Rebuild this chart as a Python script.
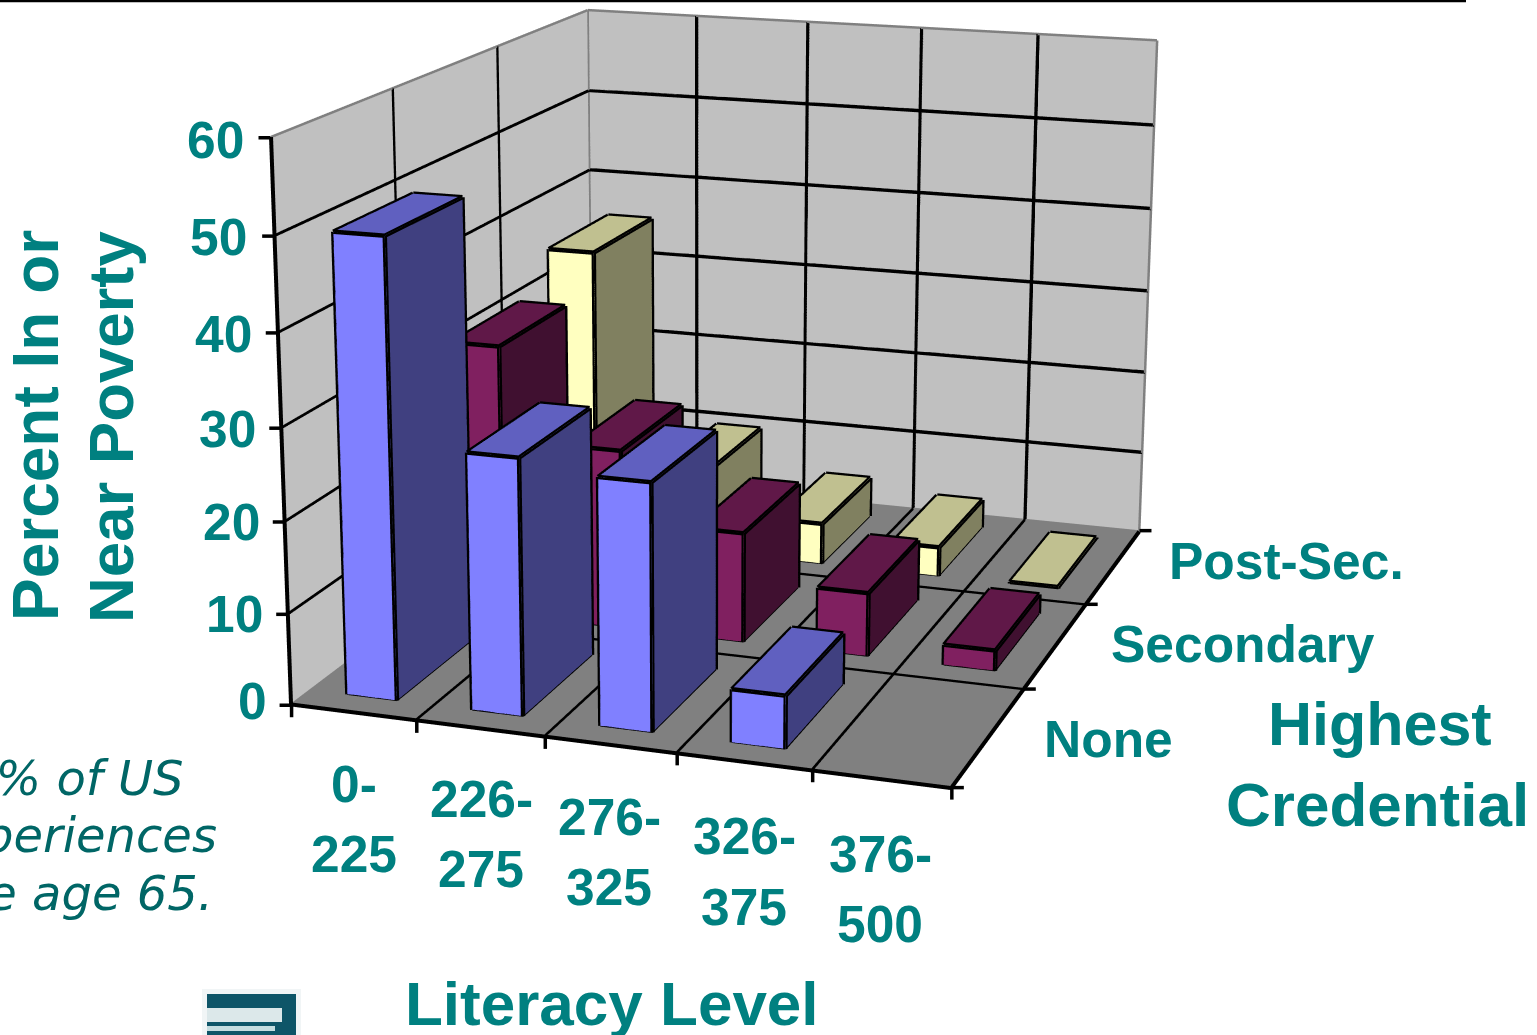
import numpy as np, plotly.graph_objects as go
levels=['0-225','226-275','276-325','326-375','376-500']
creds=['None','Secondary','Post-Sec.']
v_none=[49.7,27.8,26.6,5.7,0]
v_sec=[31.1,20.5,12.5,7.2,2.3]
v_post=[35.4,9.9,4.9,3.5,0.2]
z_ticks=[0,10,20,30,40,50,60]
DW,DH,L,T=1700,2780,145,973
F=DH/2/np.tan(np.pi/8);cx=DW/2-L;cy=DH/2-T
eye=np.array([1.586,-4.793,1.3067]);center=np.array([-0.0333,-0.1097,-0.076]);up=np.array([0.0094,-0.0217,1.0]);asp=np.array([1.0,1.2359,0.8445])
nx,ny=len(levels),len(creds)
def proj(x,y,z):
    f=center-eye;f=f/np.linalg.norm(f);r=np.cross(f,up);r/=np.linalg.norm(r);u=np.cross(r,f)
    P=np.array([(x/nx-.5)*asp[0],(y/ny-.5)*asp[1],(z/60-.5)*asp[2]])-eye
    d=P@f
    return cx+F*(P@r)/d,cy-F*(P@u)/d
def pxy(x,y): return (x+L)/DW,1-(y+T)/DH
def px(x,y):
    a,b=pxy(x,y);return dict(x=a,y=b,xref='paper',yref='paper')
dx=0.2;dy=0.34
def bars(vals,j,front,side,top):
    xs=[];ys=[];zs=[];I=[];J=[];K=[];fc=[];ex=[];ey=[];ez=[]
    for i,v in enumerate(vals):
        if v<=0: continue
        x0,x1=i+.5-dx,i+.5+dx;y0,y1=j+.5-dy,j+.5+dy
        n=len(xs)
        for a,b,c_ in [(x0,y0,0),(x1,y0,0),(x1,y1,0),(x0,y1,0),(x0,y0,v),(x1,y0,v),(x1,y1,v),(x0,y1,v)]:
            xs.append(a);ys.append(b);zs.append(c_)
        for t,col in [((0,1,5),front),((0,5,4),front),((1,2,6),side),((1,6,5),side),((4,5,6),top),((4,6,7),top),((0,3,7),front),((0,7,4),front),((3,2,6),side),((3,6,7),side)]:
            I.append(n+t[0]);J.append(n+t[1]);K.append(n+t[2]);fc.append(col)
        for a,b in [(0,1),(1,2),(4,5),(5,6),(6,7),(7,4),(0,4),(1,5),(2,6)]:
            ex+=[xs[n+a],xs[n+b],None];ey+=[ys[n+a],ys[n+b],None];ez+=[zs[n+a],zs[n+b],None]
    m=go.Mesh3d(x=xs,y=ys,z=zs,i=I,j=J,k=K,facecolor=fc,flatshading=True,lighting=dict(ambient=1,diffuse=0,specular=0,fresnel=0),showscale=False,hoverinfo='skip')
    l=go.Scatter3d(x=ex,y=ey,z=ez,mode='lines',line=dict(color='black',width=9),showlegend=False,hoverinfo='skip')
    return [m,l]
tr=bars(v_post,2,'#FFFFC0','#808060','#C0C090')+bars(v_sec,1,'#802060','#401030','#601848')+bars(v_none,0,'#8080FF','#404080','#6060C0')
def seg(segs,color,width):
    X=[];Y=[];Z=[]
    for a,b in segs:
        X+=[a[0],b[0],None];Y+=[a[1],b[1],None];Z+=[a[2],b[2],None]
    return go.Scatter3d(x=X,y=Y,z=Z,mode='lines',line=dict(color=color,width=width),showlegend=False,hoverinfo='skip')
grid=[]
for i in range(1,nx):
    grid+=[((i,0,0),(i,ny,0)),((i,ny,0),(i,ny,60))]
for j in range(1,ny):
    grid+=[((0,j,0),(nx,j,0)),((0,j,0),(0,j,60))]
for z in z_ticks[1:-1]:
    grid+=[((0,0,z),(0,ny,z)),((0,ny,z),(nx,ny,z))]
frame=[((0,0,0),(0,0,60)),((0,0,0),(nx,0,0)),((nx,0,0),(nx,ny,0))]
outline=[((0,0,60),(0,ny,60)),((0,ny,60),(nx,ny,60)),((0,ny,0),(0,ny,60)),((nx,ny,0),(nx,ny,60)),((0,0,0),(0,ny,0)),((0,ny,0),(nx,ny,0))]
fig=go.Figure(tr+[seg(grid,'black',7),seg(frame,'black',8),seg(outline,'#808080',5)])
ax=dict(showgrid=False,showline=False,ticks='',showticklabels=False,title='',zeroline=False,showspikes=False,showbackground=True)
fig.update_layout(width=DW,height=DH,margin=dict(l=0,r=0,t=0,b=0),paper_bgcolor='white',showlegend=False,
 scene=dict(domain=dict(x=[0,1],y=[0,1]),aspectmode='manual',aspectratio=dict(x=asp[0],y=asp[1],z=asp[2]),
  camera=dict(eye=dict(x=eye[0],y=eye[1],z=eye[2]),center=dict(x=center[0],y=center[1],z=center[2]),up=dict(x=up[0],y=up[1],z=up[2])),
  xaxis=dict(ax,range=[0,nx],backgroundcolor='#C0C0C0'),
  yaxis=dict(ax,range=[0,ny],backgroundcolor='#C0C0C0'),
  zaxis=dict(ax,range=[0,60],backgroundcolor='#808080')))
TEAL='#008080'
def A(x,y,t,size,anchor='center',angle=0,color=TEAL,bold=True,italic=False,fam='Liberation Sans'):
    fig.add_annotation(text=('<b>%s</b>'%t if bold else t) if not italic else '<i>%s</i>'%t,showarrow=False,xanchor=anchor,yanchor='middle',textangle=angle,font=dict(size=size,color=color,family=fam),**px(x,y))
for t,(x,y) in zip(z_ticks,[(269,701),(265,614),(262,522),(258,429),(254,334),(249,237),(246,140)]):
    A(x,y,str(t),51.5,'right')
for t,(x,y1,y2) in zip(levels,[(354,784,854),(481,799,869),(609,817,887),(744,836,907),(880,854,924)]):
    a,b=t.split('-');A(x,y1,a+'-',51.5);A(x,y2,b,51.5)
A(1108,739,creds[0],51.5);A(1243,644,creds[1],51.5);A(1286,561,creds[2],51.5)
A(1380,724,'Highest',61);A(1377,805,'Credential',62);A(612,1003,'Literacy Level',62)
A(36,426,'Percent In or',64,angle=-90);A(111,427,'Near Poverty',63.5,angle=-90)
for t,x,y in [('2% of US',186,778),('experiences',219,835),('the age 65.',215,893)]:
    A(x,y,t,48,'right',color='#006666',bold=False,italic=True,fam='DejaVu Sans')
def line(x0,y0,x1,y1,color='black',w=3):
    a,b=pxy(x0,y0);c_,d=pxy(x1,y1)
    fig.add_shape(type='line',xref='paper',yref='paper',x0=a,y0=b,x1=c_,y1=d,line=dict(color=color,width=w))
def rect(x0,y0,x1,y1,color):
    a,b=pxy(x0,y0);c_,d=pxy(x1,y1)
    fig.add_shape(type='rect',xref='paper',yref='paper',x0=a,y0=b,x1=c_,y1=d,line_width=0,fillcolor=color)
for i in range(nx+1):
    q=proj(i,0,0);line(q[0],q[1],q[0],q[1]+12,w=3.5)
for j in range(ny+1):
    q=proj(nx,j,0);line(q[0],q[1],q[0]+12,q[1],w=3.5)
for z in z_ticks:
    q=proj(0,0,z);line(q[0]-12,q[1],q[0],q[1],w=3.5)
line(0,1,1466,1,'black',2.5)
rect(202,989,301,1035,'#F1F5F6');rect(207,994,296,1035,'#0E5568');rect(207,1008,282,1022,'#DCE8EA');rect(207,1026,275,1031,'#C4DDE0')
css="var g=document.getElementById('{plot_id}');g.style.position='fixed';g.style.left='%dpx';g.style.top='%dpx';document.body.style.margin='0';document.body.style.overflow='hidden';"%(-L,-T)
fig.write_html('out.html',post_script=css)
